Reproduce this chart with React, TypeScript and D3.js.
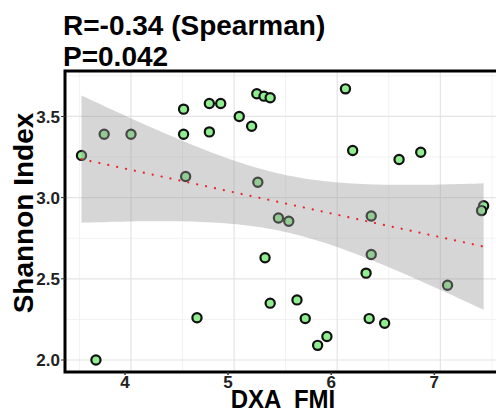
import React from 'react';
import * as d3 from 'd3';

// DXA FMI vs Shannon index
const fmi = [
  3.52, 3.74, 4.0, 4.51, 4.51, 4.53, 4.76, 4.76, 4.87, 5.05, 5.17, 5.22, 5.29,
  5.35, 5.23, 5.43, 5.53, 6.08, 6.15, 6.6, 6.81, 6.33, 7.42, 7.4, 6.33, 6.28,
  7.07, 6.31, 6.46, 5.3, 5.35, 5.61, 5.69, 5.9, 5.81, 4.64, 3.66
];
const shannon = [
  3.26, 3.39, 3.39, 3.545, 3.39, 3.13, 3.58, 3.405, 3.58, 3.5, 3.44, 3.64, 3.625,
  3.615, 3.095, 2.875, 2.855, 3.67, 3.29, 3.235, 3.28, 2.887, 2.95, 2.92, 2.65,
  2.535, 2.46, 2.255, 2.226, 2.63, 2.35, 2.37, 2.255, 2.145, 2.09, 2.26, 2.0
];
const xTicks = [4, 5, 6, 7];
const xMinor = [3.5, 4.5, 5.5, 6.5, 7.5];
const yTicks = [2.0, 2.5, 3.0, 3.5];
const yMinor = [2.25, 2.75, 3.25, 3.75];
const titleLines = ['R=-0.34 (Spearman)', 'P=0.042'];
const tCrit = 2.03; // t(0.975, df = 35)

const font = '"Liberation Sans", Arial, Helvetica, sans-serif';

function fitLine(xs: number[], ys: number[]) {
  const n = xs.length;
  const mx = d3.mean(xs) as number;
  const my = d3.mean(ys) as number;
  let sxx = 0, sxy = 0;
  xs.forEach((x, i) => {
    sxx += (x - mx) * (x - mx);
    sxy += (x - mx) * (ys[i] - my);
  });
  const b = sxy / sxx;
  const a = my - b * mx;
  let sse = 0;
  xs.forEach((x, i) => {
    const r = ys[i] - (a + b * x);
    sse += r * r;
  });
  const s = Math.sqrt(sse / (n - 2));
  const [lo, hi] = d3.extent(xs) as [number, number];
  return d3.range(0, 81).map(k => {
    const x = lo + (hi - lo) * k / 80;
    const fit = a + b * x;
    const se = s * Math.sqrt(1 / n + (x - mx) * (x - mx) / sxx);
    return {x, fit, lower: fit - tCrit * se, upper: fit + tCrit * se};
  });
}

export default function App() {
  const width = 496, height = 410;
  const margin = {top: 71, left: 65, bottom: 372};

  const x = d3.scaleLinear().domain([3.36, 7.54]).range([margin.left, 496]);
  const y = d3.scaleLinear().domain([1.926, 3.78]).range([margin.bottom, margin.top]);

  const fit = fitLine(fmi, shannon);
  const band = d3.area<any>()
    .x(d => x(d.x))
    .y0(d => y(d.lower))
    .y1(d => y(d.upper));
  const line = d3.line<any>()
    .x(d => x(d.x))
    .y(d => y(d.fit));

  const axisShift = -6;

  return (
    <svg width={width} height={height}
         style={{position: 'absolute', left: 0, top: 0, background: '#fff'}}>
      {titleLines.map((t, i) => (
        <text key={t} x={63} y={35 + i * 31} fontFamily={font} fontWeight="bold"
              fontSize={28} fill="#000">{t}</text>
      ))}

      <rect x={margin.left} y={margin.top} width={460} height={margin.bottom - margin.top}
            fill="#fff"/>

      {xMinor.map(v => (
        <line key={'xm' + v} x1={x(v)} x2={x(v)} y1={margin.top} y2={margin.bottom}
              stroke="#f2f2f2" strokeWidth={1}/>
      ))}
      {yMinor.map(v => (
        <line key={'ym' + v} x1={margin.left} x2={width} y1={y(v)} y2={y(v)}
              stroke="#f2f2f2" strokeWidth={1}/>
      ))}
      {xTicks.map(v => (
        <line key={'xg' + v} x1={x(v)} x2={x(v)} y1={margin.top} y2={margin.bottom}
              stroke="#e4e4e4" strokeWidth={1.2}/>
      ))}
      {yTicks.map(v => (
        <line key={'yg' + v} x1={margin.left} x2={width} y1={y(v)} y2={y(v)}
              stroke="#e4e4e4" strokeWidth={1.2}/>
      ))}

      {fmi.map((v, i) => (
        <circle key={i} cx={x(v)} cy={y(shannon[i])} r={4.6}
                fill="#90ee90" stroke="#111" strokeWidth={2.2}/>
      ))}

      <path d={band(fit) as string} fill="#999999" fillOpacity={0.4}/>
      <path d={line(fit) as string} fill="none" stroke="#e8262b" strokeWidth={2.2}
            strokeDasharray="0.1,9" strokeLinecap="round"/>

      <rect x={margin.left} y={margin.top} width={460} height={margin.bottom - margin.top}
            fill="none" stroke="#000" strokeWidth={3}/>

      {yTicks.map(v => (
        <g key={'yt' + v}>
          <line x1={margin.left - 4} x2={margin.left} y1={y(v)} y2={y(v)}
                stroke="#333" strokeWidth={1}/>
          <text x={margin.left - 5} y={y(v)} dy="0.36em" textAnchor="end"
                fontFamily={font} fontWeight="bold" fontSize={17} fill="#222">
            {v.toFixed(1)}
          </text>
        </g>
      ))}
      {xTicks.map(v => (
        <g key={'xt' + v} transform={`translate(${x(v) + axisShift},0)`}>
          <line x1={0} x2={0} y1={margin.bottom} y2={margin.bottom + 3}
                stroke="#333" strokeWidth={1.5}/>
          <text x={0} y={margin.bottom + 16} textAnchor="middle"
                fontFamily={font} fontWeight="bold" fontSize={17} fill="#222">
            {v}
          </text>
        </g>
      ))}

      <text transform="translate(283,408) scale(1,1.1)" textAnchor="middle"
            fontFamily={font} fontWeight="bold" fontSize={24} fill="#000"
            style={{whiteSpace: 'pre'}}>
        {'DXA  FMI'}
      </text>
      <text transform="translate(33,213) rotate(-90)" textAnchor="middle"
            fontFamily={font} fontWeight="bold" fontSize={28} fill="#000">
        Shannon Index
      </text>
    </svg>
  );
}
